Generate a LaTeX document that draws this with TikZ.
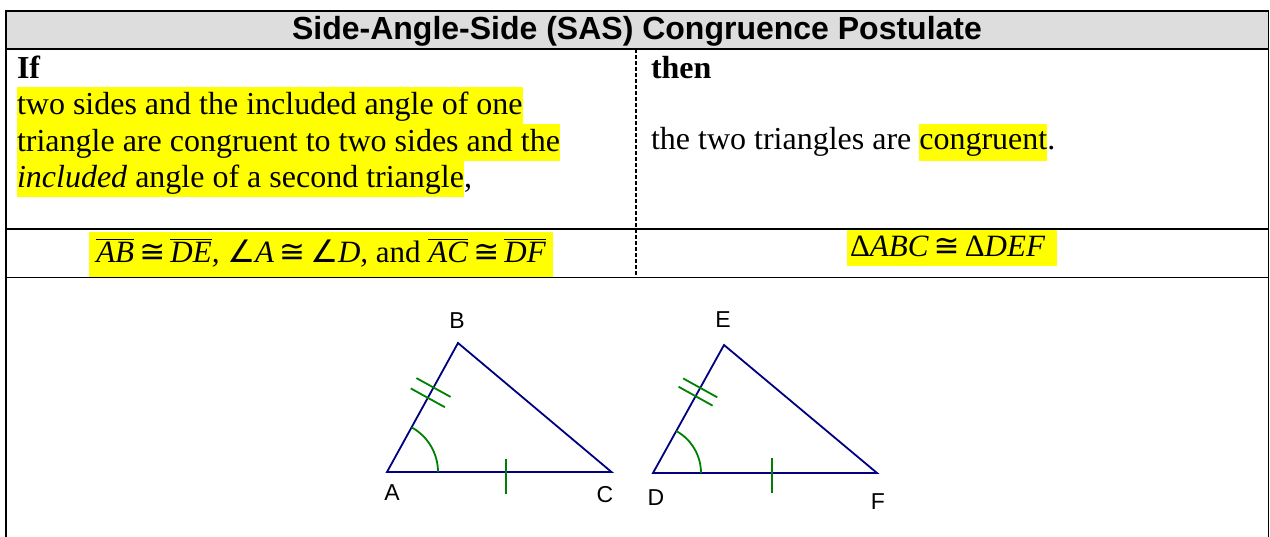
\documentclass[tikz,border=0pt]{standalone}
\usepackage{fontspec}
\setmainfont{Liberation Serif}
\newfontfamily\titlefont{Liberation Sans}
\newfontfamily\labelfont{Liberation Sans}
\newfontfamily\symfont{DejaVu Sans}
\usetikzlibrary{calc,angles}
\definecolor{navyline}{RGB}{0,0,128}
\definecolor{markgreen}{RGB}{0,128,0}
\definecolor{hlyellow}{RGB}{255,255,0}
\definecolor{titlegray}{RGB}{221,221,221}
\newcommand\hlbox[3]{{\setlength\fboxsep{0pt}\colorbox{hlyellow}{\rule[-#2]{0pt}{\dimexpr#1+#2\relax}#3}}}
\newcommand\ovl[1]{\vbox{\hrule height 1.3pt\kern 2.5pt\hbox{#1}}}
\newcommand\sym[1]{{\symfont #1}}
\begin{document}
\begin{tikzpicture}[x=1pt,y=1pt,
  frame/.style={line width=1.8pt,black},
  divider/.style={line width=1.2pt,black,dash pattern=on 4pt off 2pt},
  body/.style={font=\fontsize{32}{37}\selectfont,inner sep=0pt,outer sep=0pt,anchor=base west},
  formula/.style={font=\fontsize{31}{36}\selectfont,inner sep=0pt,outer sep=0pt,anchor=base},
  titletext/.style={font=\titlefont\bfseries\fontsize{32}{38}\selectfont,inner sep=0pt,anchor=base},
  vlabel/.style={font=\labelfont\fontsize{23}{27}\selectfont,inner sep=0pt},
  tri/.style={line width=1.8pt,navyline,line join=miter},
  tickmark/.style={line width=1.8pt,markgreen},
]
\useasboundingbox (0,0) rectangle (1270,537);
% title band
\fill[titlegray] (6,488) rectangle (1268.5,526);
\draw[frame] (6,0) -- (6,526) -- (1268.5,526) -- (1268.5,0);
\draw[frame] (6,488) -- (1268.5,488);
\draw[frame] (6,308) -- (1268.5,308);
\draw[frame] (6,259.5) -- (1268.5,259.5);
\draw[divider] (636,488) -- (636,259.5);
\node[titletext] (title) at (637,497.5) {Side-Angle-Side (SAS) Congruence Postulate};
% If cell
\node[body] (if) at (17,458) {\textbf{If}};
\node[body] (l1) at (17,422) {\hlbox{28pt}{9pt}{two sides and the included angle of one}};
\node[body] (l2) at (17,385) {\hlbox{28pt}{9pt}{triangle are congruent to two sides and the}};
\node[body] (l3) at (17,349) {\hlbox{27pt}{9pt}{\textit{included} angle of a second triangle},};
% then cell
\node[body] (then) at (651,458) {\textbf{then}};
\node[body] (concl) at (651,387) {the two triangles are \hlbox{26pt}{11pt}{congruent}.};
% formulas
\node[formula] (given) at (321,274) {\hlbox{31pt}{14pt}{\kern7pt\itshape\ovl{AB}\,\sym{≅}\,\ovl{DE}, \sym{∠}A\,\sym{≅}\,\sym{∠}D, \upshape and \itshape\ovl{AC}\,\sym{≅}\,\ovl{DF}\kern7pt}};
\node[formula] (result) at (952,280) {\hlbox{27pt}{9pt}{\kern3pt\itshape\textup{Δ}ABC\,\sym{≅}\,\textup{Δ}DEF\kern12pt}};
% triangle ABC
\coordinate (A) at (387,65);
\coordinate (B) at (458,194);
\coordinate (C) at (611.5,65);
\draw[tri] (A) -- (B) -- (C) -- cycle;
\pic[draw,tickmark,angle radius=51pt] {angle=C--A--B};
\draw[tickmark] ($(A)!0.575!(B)!19.5pt!90:(B)$) -- ($(A)!0.575!(B)!19.5pt!-90:(B)$);
\draw[tickmark] ($(A)!0.655!(B)!19.5pt!90:(B)$) -- ($(A)!0.655!(B)!19.5pt!-90:(B)$);
\coordinate (ac) at ($(A)!0.53!(C)$);
\draw[tickmark] ($(ac)+(0,13)$) -- ($(ac)+(0,-22)$);
\node[vlabel] (lA) at (392,44) {A};
\node[vlabel] (lB) at (457,216) {B};
\node[vlabel] (lC) at (605,42) {C};
% triangle DEF
\coordinate (D) at (653,64);
\coordinate (E) at (724,192);
\coordinate (F) at (877,64);
\draw[tri] (D) -- (E) -- (F) -- cycle;
\pic[draw,tickmark,angle radius=48pt] {angle=F--D--E};
\draw[tickmark] ($(D)!0.6!(E)!19.5pt!90:(E)$) -- ($(D)!0.6!(E)!19.5pt!-90:(E)$);
\draw[tickmark] ($(D)!0.665!(E)!19.5pt!90:(E)$) -- ($(D)!0.665!(E)!19.5pt!-90:(E)$);
\coordinate (df) at ($(D)!0.531!(F)$);
\draw[tickmark] ($(df)+(0,15)$) -- ($(df)+(0,-20)$);
\node[vlabel] (lD) at (656,39) {D};
\node[vlabel] (lE) at (723,217) {E};
\node[vlabel] (lF) at (878,35) {F};
\end{tikzpicture}
\end{document}
